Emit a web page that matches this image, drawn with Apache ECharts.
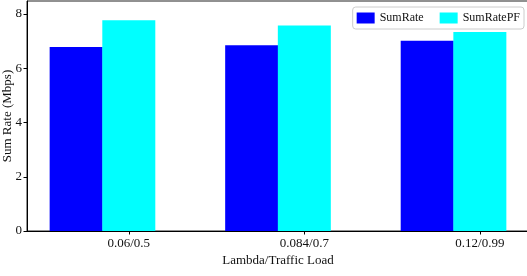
<!DOCTYPE html>
<html><head><meta charset="utf-8">
<script src="https://cdn.jsdelivr.net/npm/echarts@6/dist/echarts.min.js"></script>
<style>html,body{margin:0;padding:0;background:#fff}#c{width:527px;height:276px}</style>
</head><body><div id="c"></div>
<script>
const categories = ['0.06/0.5', '0.084/0.7', '0.12/0.99'];
const sumRate = [6.78, 6.85, 7.01];
const sumRatePF = [7.77, 7.58, 7.34];
const yTicks = [0, 2, 4, 6, 8];

const BAR_W = 0.3;
const F = 'Liberation Serif, DejaVu Serif, serif';
const chart = echarts.init(document.getElementById('c'));
const labelPos = categories.map((c, i) => i + BAR_W);
chart.setOption({
  animation: false,
  grid: { left: 27, right: -2, top: 1, bottom: 45, show: true, borderColor: '#222', borderWidth: 1,
          containLabel: false, outerBoundsMode: 'none' },
  legend: {
    right: 3, top: 7, itemWidth: 18, itemHeight: 11, itemGap: 16,
    backgroundColor: '#fff', borderColor: '#ccc', borderWidth: 1, borderRadius: 3,
    padding: [5, 4, 5, 4],
    textStyle: { fontFamily: F, fontSize: 12, color: '#111' },
    data: [{ name: 'SumRate', icon: 'rect' }, { name: 'SumRatePF', icon: 'rect' }]
  },
  xAxis: {
    type: 'value', min: -0.28, max: 2.58,
    name: 'Lambda/Traffic Load', nameLocation: 'middle', nameGap: 23, nameMoveOverlap: false,
    nameTextStyle: { fontFamily: F, fontSize: 13, color: '#111' },
    splitLine: { show: false },
    axisLine: { onZero: false, lineStyle: { color: '#000', width: 1 } },
    axisTick: { customValues: labelPos, length: 3.5, lineStyle: { color: '#000' } },
    axisLabel: {
      customValues: labelPos, fontFamily: F, fontSize: 13, color: '#111', margin: 6,
      formatter: v => categories[Math.round(v - BAR_W)]
    }
  },
  yAxis: {
    type: 'value', min: 0, max: 8.48,
    name: 'Sum Rate (Mbps)', nameLocation: 'middle', nameGap: 13, nameMoveOverlap: false,
    nameTextStyle: { fontFamily: F, fontSize: 13, color: '#111' },
    splitLine: { show: false },
    axisLine: { show: true, onZero: false, lineStyle: { color: '#000', width: 1 } },
    axisTick: { show: true, customValues: yTicks, length: 3.5, lineStyle: { color: '#000' } },
    axisLabel: { customValues: yTicks, fontFamily: F, fontSize: 13, color: '#111', margin: 5 }
  },
  series: [
    { name: 'SumRate', type: 'bar', barWidth: 53, barGap: '-100%', itemStyle: { color: '#0000ff' },
      data: sumRate.map((v, i) => [i, v]) },
    { name: 'SumRatePF', type: 'bar', barWidth: 53, barGap: '-100%', itemStyle: { color: '#00ffff' },
      data: sumRatePF.map((v, i) => [i + BAR_W, v]) }
  ]
});
</script></body></html>
